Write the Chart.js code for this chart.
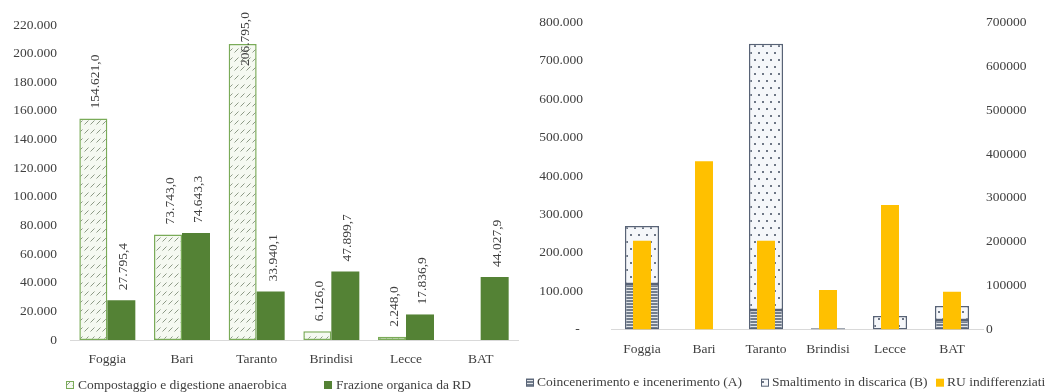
<!DOCTYPE html>
<html lang="it">
<head>
<meta charset="utf-8">
<title>Frazione organica e RU indifferenziati per provincia</title>
<script src="https://cdn.jsdelivr.net/npm/chart.js@4.4.1/dist/chart.umd.min.js"></script>
<style>
  html, body { margin: 0; padding: 0; background: #fff; overflow: hidden; }
  #contenitore { position: relative; width: 1056px; height: 392px; }
  #graficoOrganico { position: absolute; left: 0; top: 0; }
  #graficoRU { position: absolute; left: 520px; top: 0; }
</style>
</head>
<body>
<div id="contenitore">
  <canvas id="graficoOrganico" width="530" height="392"></canvas>
  <canvas id="graficoRU" width="536" height="392"></canvas>
</div>
<script>
/* Dati */

var province = ['Foggia', 'Bari', 'Taranto', 'Brindisi', 'Lecce', 'BAT'];

// grafico di sinistra (t)
var compostaggio = [154621.0, 73743.0, 206795.0, 6126.0, 2248.0, null];
var frazioneOrganica = [27795.4, 74643.3, 33940.1, 47899.7, 17836.9, 44027.9];
var tickOrganico = [0, 20000, 40000, 60000, 80000, 100000, 120000, 140000, 160000, 180000, 200000, 220000];

// grafico di destra (t)
var coincenerimento = [118600, null, 50800, null, null, 25000];
var smaltimento = [151100, null, 693900, 3000, 35000, 36000];
var ruIndifferenziati = [202500, 383500, 202500, 90000, 284000, 86000];
var tickRUSinistra = [0, 100000, 200000, 300000, 400000, 500000, 600000, 700000, 800000];
var tickRUDestra = [0, 100000, 200000, 300000, 400000, 500000, 600000, 700000];

/* Stile comune */

var FONT = '"Liberation Serif", "DejaVu Serif", serif';
var COLORE_TESTO = '#404040';
Chart.defaults.font.family = FONT;
Chart.defaults.font.size = 13.5;
Chart.defaults.color = COLORE_TESTO;

// numeri all'italiana: 154.621,0
function formatoIt(v, decimali) {
  var parti = v.toFixed(decimali).split('.');
  var intero = parti[0].replace(/\B(?=(\d{3})+(?!\d))/g, '.');
  return parti.length > 1 ? intero + ',' + parti[1] : intero;
}

/* Retini */

function retino(w, h, disegna) {
  var c = document.createElement('canvas');
  c.width = w;
  c.height = h;
  var g = c.getContext('2d');
  disegna(g);
  return g.createPattern(c, 'repeat');
}

var retinoCompost = retino(6, 9, function (g) {
  g.fillStyle = '#f5f9f1';
  g.fillRect(0, 0, 6, 9);
  g.strokeStyle = '#8d9a86';
  g.lineWidth = 1;
  g.beginPath();
  g.moveTo(0.5, 7.5);
  g.lineTo(4.5, 3.5);
  g.stroke();
});

var retinoCoinc = retino(4, 3, function (g) {
  g.fillStyle = '#e3e6ea';
  g.fillRect(0, 0, 4, 3);
  g.fillStyle = '#737e8d';
  g.fillRect(0, 0, 4, 2);
});

var retinoSmalt = retino(8, 14, function (g) {
  g.fillStyle = '#f5f7fa';
  g.fillRect(0, 0, 8, 14);
  g.fillStyle = '#6d7685';
  g.fillRect(2, 3, 2, 2);
  g.fillRect(6, 10, 2, 2);
});

/* Plugin: etichette verticali sopra le barre */

var etichettePlugin = {
  id: 'etichette',
  afterDatasetsDraw: function (chart) {
    var ctx = chart.ctx;
    ctx.save();
    ctx.font = '13.5px ' + FONT;
    ctx.fillStyle = COLORE_TESTO;
    chart.data.datasets.forEach(function (ds, i) {
      var meta = chart.getDatasetMeta(i);
      meta.data.forEach(function (barra, j) {
        var v = ds.data[j];
        if (v === null || v === undefined) return;
        var testo = formatoIt(v, 1);
        var w = ctx.measureText(testo).width;
        var base = barra.y - 10;
        if (base - w < 12) base = 12 + w;
        ctx.save();
        ctx.translate(barra.x + 2.5, base);
        ctx.rotate(-Math.PI / 2);
        ctx.textAlign = 'left';
        ctx.textBaseline = 'middle';
        ctx.fillText(testo, 0, 0);
        ctx.restore();
      });
    });
    ctx.restore();
  }
};

/* Plugin: legenda in basso */

var legendaPlugin = {
  id: 'legenda',
  afterDraw: function (chart, args, opts) {
    var ctx = chart.ctx;
    ctx.save();
    ctx.font = '13.5px ' + FONT;
    ctx.textBaseline = 'middle';
    ctx.textAlign = 'left';
    chart.data.datasets.forEach(function (ds, i) {
      var x = opts.posizioni[i];
      var y = opts.y;
      ctx.fillStyle = ds.backgroundColor;
      ctx.fillRect(x, y - 4, 8, 8);
      if (ds.borderWidth) {
        ctx.strokeStyle = ds.borderColor;
        ctx.lineWidth = 1;
        ctx.strokeRect(x + 0.5, y - 3.5, 7, 7);
      }
      ctx.fillStyle = COLORE_TESTO;
      ctx.fillText(ds.label, x + opts.scarto, y);
    });
    ctx.restore();
  }
};

function ticksDa(lista) {
  return function (scale) {
    scale.ticks = lista.map(function (v) { return { value: v }; });
  };
}

/* Grafico di sinistra */

new Chart(document.getElementById('graficoOrganico'), {
  type: 'bar',
  data: {
    labels: province,
    datasets: [{
      label: 'Compostaggio e digestione anaerobica',
      data: compostaggio,
      backgroundColor: retinoCompost,
      borderColor: '#7aab58',
      borderWidth: 1.5,
      borderSkipped: false
    }, {
      label: 'Frazione organica da RD',
      data: frazioneOrganica,
      backgroundColor: '#548235',
      borderWidth: 0
    }]
  },
  options: {
    responsive: false,
    animation: false,
    layout: { padding: { top: 25, right: 12, left: 0, bottom: 0 } },
    datasets: { bar: { categoryPercentage: 0.75, barPercentage: 1.0 } },
    scales: {
      x: {
        grid: { display: false, drawTicks: false },
        border: { color: '#d9d9d9', width: 1 },
        ticks: { padding: 11, maxRotation: 0 },
        afterFit: function (s) { s.height = 52; }
      },
      y: {
        min: tickOrganico[0],
        max: tickOrganico[tickOrganico.length - 1],
        grid: { display: false, drawTicks: false },
        border: { display: false },
        afterBuildTicks: ticksDa(tickOrganico),
        ticks: {
          padding: 13,
          callback: function (v) { return formatoIt(v, 0); }
        },
        afterFit: function (s) { s.width = 70; s.paddingTop = 0; s.paddingBottom = 0; }
      }
    },
    plugins: {
      legend: { display: false },
      tooltip: { enabled: false },
      legenda: { posizioni: [66, 324], y: 385, scarto: 12 }
    }
  },
  plugins: [etichettePlugin, legendaPlugin]
});

/* Grafico di destra */

new Chart(document.getElementById('graficoRU'), {
  type: 'bar',
  data: {
    labels: province,
    datasets: [{
      label: 'Coincenerimento e incenerimento (A)',
      data: coincenerimento,
      backgroundColor: retinoCoinc,
      borderColor: '#586376',
      borderWidth: 1.5,
      borderSkipped: false,
      yAxisID: 'y',
      barPercentage: 0.55,
      order: 1
    }, {
      label: 'Smaltimento in discarica (B)',
      data: smaltimento,
      backgroundColor: retinoSmalt,
      borderColor: '#586376',
      borderWidth: 1.5,
      borderSkipped: false,
      yAxisID: 'y',
      barPercentage: 0.55,
      order: 1
    }, {
      label: 'RU indifferenziati',
      data: ruIndifferenziati,
      backgroundColor: '#ffc000',
      borderWidth: 0,
      yAxisID: 'y2',
      barPercentage: 0.29,
      order: 0
    }]
  },
  options: {
    responsive: false,
    animation: false,
    layout: { padding: { top: 22.5, right: 0, left: 0, bottom: 0 } },
    datasets: { bar: { categoryPercentage: 1.0, grouped: false } },
    scales: {
      x: {
        grid: { display: false, drawTicks: false },
        border: { color: '#d9d9d9', width: 1 },
        ticks: { padding: 12, maxRotation: 0 },
        afterFit: function (s) { s.height = 62.5; }
      },
      y: {
        stacked: true,
        position: 'left',
        min: tickRUSinistra[0],
        max: tickRUSinistra[tickRUSinistra.length - 1],
        grid: { display: false, drawTicks: false },
        border: { display: false },
        afterBuildTicks: ticksDa(tickRUSinistra),
        ticks: {
          padding: 28,
          callback: function (v) { return v === 0 ? '- ' : formatoIt(v, 0); }
        },
        afterFit: function (s) { s.width = 91; s.paddingTop = 0; s.paddingBottom = 0; }
      },
      y2: {
        position: 'right',
        min: tickRUDestra[0],
        max: tickRUDestra[tickRUDestra.length - 1],
        grid: { display: false, drawTicks: false },
        border: { display: false },
        afterBuildTicks: ticksDa(tickRUDestra),
        ticks: {
          padding: 3,
          callback: function (v) { return String(v); }
        },
        afterFit: function (s) { s.width = 73; s.paddingTop = 0; s.paddingBottom = 0; }
      }
    },
    plugins: {
      legend: { display: false },
      tooltip: { enabled: false },
      legenda: { posizioni: [6, 241, 416], y: 382.7, scarto: 11 }
    }
  },
  plugins: [legendaPlugin]
});
</script>
</body>
</html>
